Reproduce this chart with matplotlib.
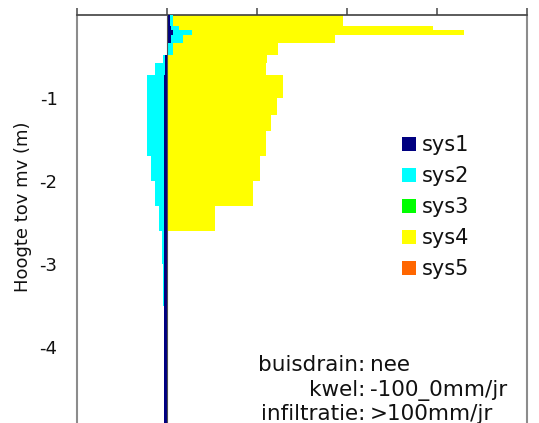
import matplotlib
matplotlib.use("Agg")
import matplotlib.pyplot as plt
from matplotlib.patches import Patch
import numpy as np

# Soil layers (depth below surface, m)
layer_top = [0.0, 0.13, 0.18, 0.24, 0.34, 0.48, 0.58, 0.72, 1.0, 1.2, 1.4, 1.7, 2.0, 2.3, 2.6, 3.0, 3.5]
layer_bottom = [0.13, 0.18, 0.24, 0.34, 0.48, 0.58, 0.72, 1.0, 1.2, 1.4, 1.7, 2.0, 2.3, 2.6, 3.0, 3.5, 5.0]

# Values per system and layer
sys1 = [0.03, 0.04, 0.07, 0.04, 0.01, -0.02, -0.02, -0.03, -0.03, -0.03, -0.03, -0.03, -0.03, -0.03, -0.03, -0.03, -0.03]
sys2 = [0.07, 0.13, 0.28, 0.18, 0.07, -0.04, -0.13, -0.22, -0.22, -0.22, -0.22, -0.18, -0.13, -0.09, -0.06, -0.05, 0.0]
sys3 = [0.0] * 17
sys4 = [1.96, 2.96, 3.30, 1.87, 1.23, 1.11, 1.10, 1.29, 1.22, 1.16, 1.10, 1.03, 0.96, 0.53, 0.0, 0.0, 0.0]
sys5 = [0.0] * 17

series_names = ["sys1", "sys2", "sys3", "sys4", "sys5"]
series_colors = ["#000080", "#00FFFF", "#00FF00", "#FFFF00", "#FF6600"]

y_ticks = [-1, -2, -3, -4]
x_ticks = [-1, 0, 1, 2, 3, 4]

info_labels = ["buisdrain:", "kwel:", "infiltratie:"]
info_values = ["nee", "-100_0mm/jr", ">100mm/jr"]

W, H = 539, 423
fig = plt.figure(figsize=(W / 100, H / 100), dpi=100)
ax = fig.add_axes([77 / W, -7 / H, 450 / W, 415 / H])

top = -np.array(layer_top)
bot = -np.array(layer_bottom)
centers = (top + bot) / 2
heights = top - bot

# draw order: yellow underneath, then the thinner systems on top
for vals, col, z in [(sys4, series_colors[3], 2), (sys3, series_colors[2], 3),
                     (sys5, series_colors[4], 3), (sys2, series_colors[1], 4),
                     (sys1, series_colors[0], 5)]:
    ax.barh(centers, vals, height=heights, left=0, color=col, linewidth=0, zorder=z)

ax.axvline(0, color="#505050", lw=0.8, zorder=6)

ax.set_xlim(-1, 4)
ax.set_ylim(-5, 0)
ax.set_xticks(x_ticks)
ax.set_yticks(y_ticks)
ax.set_yticklabels([str(t) for t in y_ticks])
ax.xaxis.tick_top()
ax.tick_params(axis="x", which="both", direction="out", length=5, width=1.2,
               color="#555555", labeltop=False, labelbottom=False)
ax.tick_params(axis="y", length=0, pad=14, labelsize=13, labelcolor="#111111")

ax.spines["top"].set_color("#404040")
ax.spines["top"].set_linewidth(1.2)
for s in ("left", "right"):
    ax.spines[s].set_color("#8c8c8c")
    ax.spines[s].set_linewidth(1.5)
ax.spines["bottom"].set_visible(False)

fig.text(23 / W, 1 - 207 / H, "Hoogte tov mv (m)", rotation=90, ha="center",
         va="center", fontsize=13, color="#111111")

handles = [Patch(facecolor=c, edgecolor="none") for c in series_colors]
leg = fig.legend(handles, series_names, loc="upper left",
                 bbox_to_anchor=(402 / W, 1 - 135 / H), frameon=False,
                 fontsize=15, handlelength=0.65, handleheight=0.65,
                 handletextpad=0.3, labelspacing=0.53, borderpad=0,
                 borderaxespad=0)
for t in leg.get_texts():
    t.set_color("#111111")

for i, (lab, val) in enumerate(zip(info_labels, info_values)):
    yb = 1 - (371 + 24.5 * i) / H
    fig.text(365 / W, yb, lab, ha="right", va="baseline", fontsize=15.5, color="#111111")
    fig.text(370 / W, yb, val, ha="left", va="baseline", fontsize=15.5, color="#111111")

fig.savefig("out.png", dpi=100)
